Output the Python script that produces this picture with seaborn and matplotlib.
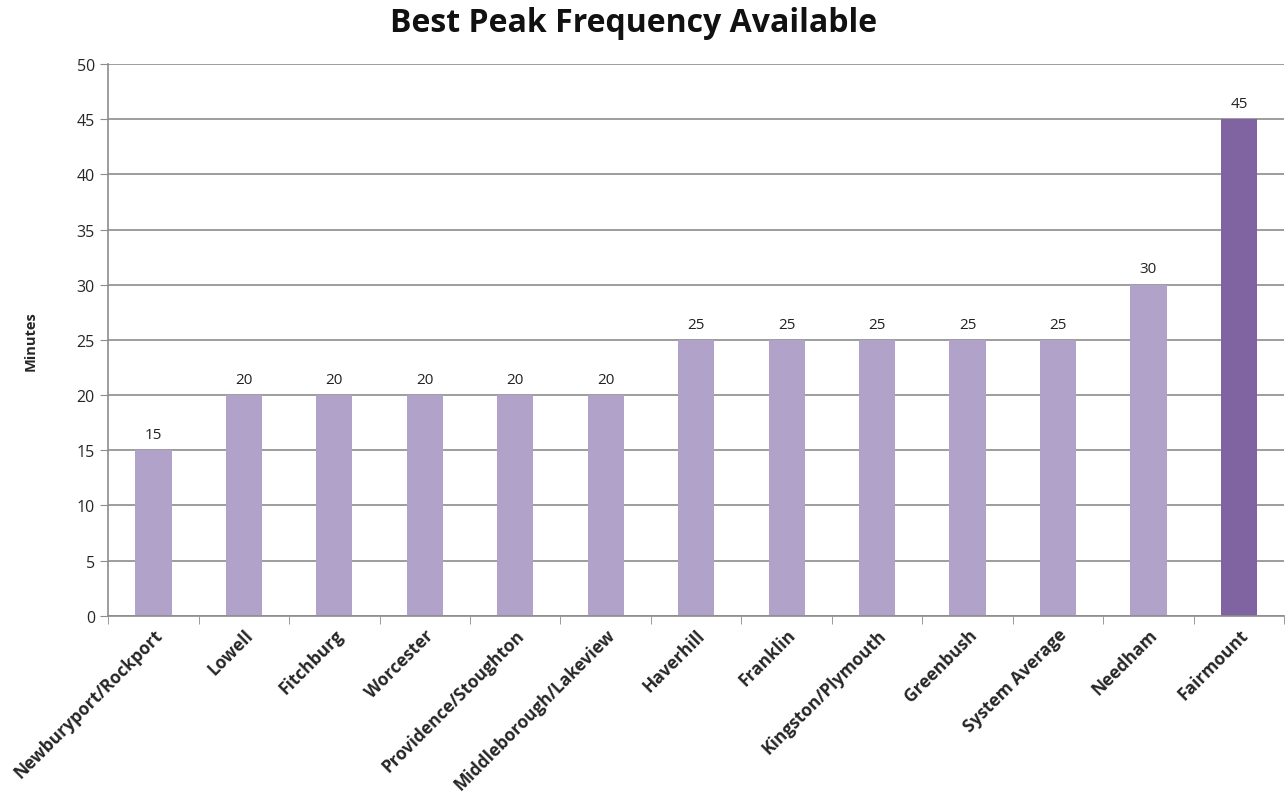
import matplotlib
matplotlib.use("Agg")
import matplotlib.pyplot as plt
import pandas as pd
import seaborn as sns
from matplotlib.ticker import FixedLocator

lines = ["Newburyport/Rockport", "Lowell", "Fitchburg", "Worcester",
         "Providence/Stoughton", "Middleborough/Lakeview", "Haverhill",
         "Franklin", "Kingston/Plymouth", "Greenbush", "System Average",
         "Needham", "Fairmount"]
minutes = [15, 20, 20, 20, 20, 20, 25, 25, 25, 25, 25, 30, 45]
highlight = "Fairmount"

light = "#B0A2C8"
dark = "#8064A2"

df = pd.DataFrame({"line": lines, "minutes": minutes})

sns.set_style("white")
plt.rcParams["font.family"] = ["Open Sans", "DejaVu Sans"]

fig, ax = plt.subplots(figsize=(12.88, 8.04), dpi=100)
fig.subplots_adjust(left=0.084, right=0.997, top=0.919, bottom=0.233)

palette = {l: (dark if l == highlight else light) for l in lines}
sns.barplot(data=df, x="line", y="minutes", hue="line", palette=palette,
            width=0.4, legend=False, ax=ax, saturation=1, linewidth=0)

for c in ax.containers:
    ax.bar_label(c, padding=6, fontsize=11, color="#222222")

ax.set_ylim(0, 50)
ax.set_yticks(range(0, 51, 5))
ax.set_xlim(-0.5, len(lines) - 0.5)
ax.yaxis.grid(True, color="#8c8c8c", linewidth=1.2)
ax.set_axisbelow(True)

for s in ["top", "right"]:
    ax.spines[s].set_visible(False)
for s in ["left", "bottom"]:
    ax.spines[s].set_color("#8c8c8c")
    ax.spines[s].set_linewidth(1.2)

ax.tick_params(axis="y", length=6, color="#8c8c8c", labelsize=11.5, direction="out", left=True)
ax.tick_params(axis="x", which="major", length=0, pad=7)
ax.xaxis.set_minor_locator(FixedLocator([i - 0.5 for i in range(len(lines) + 1)]))
ax.tick_params(axis="x", which="minor", length=6, color="#8c8c8c", direction="out", bottom=True)

ax.set_xticks(range(len(lines)))
ax.set_xticklabels(lines, rotation=45, ha="right", rotation_mode="anchor",
                   fontsize=12.5, fontweight="bold")
ax.set_xlabel("")
ax.set_ylabel("Minutes", fontsize=10.5, fontweight="bold", labelpad=28)
fig.suptitle("Best Peak Frequency Available", x=0.492, y=0.971, va="center",
             fontsize=23, fontweight="bold", color="#111111")

plt.savefig("out.png", dpi=100)
